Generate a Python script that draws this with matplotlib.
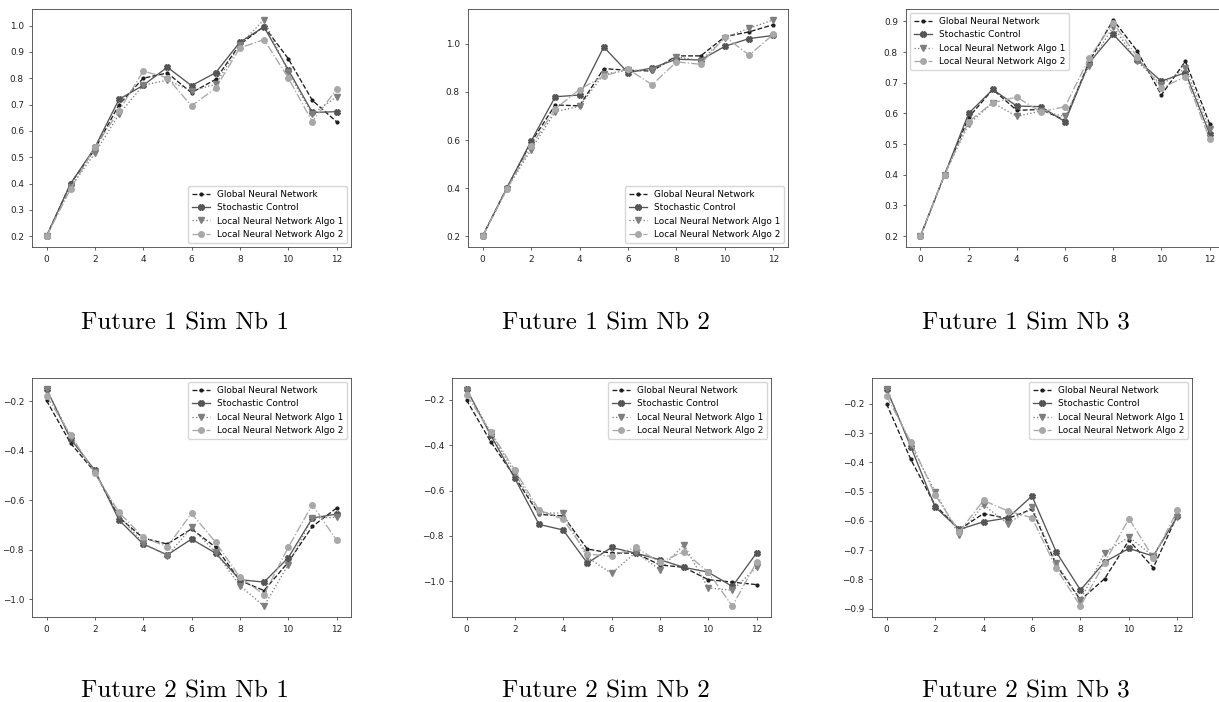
import matplotlib
matplotlib.use('Agg')
import matplotlib.pyplot as plt
from matplotlib.ticker import MultipleLocator

# time steps
steps = list(range(13))

# Future 1 Sim Nb 1
f1s1_global = [0.20, 0.40, 0.53, 0.70, 0.80, 0.82, 0.745, 0.796, 0.928, 0.997, 0.875, 0.716, 0.635]
f1s1_stoch = [0.20, 0.40, 0.537, 0.72, 0.773, 0.842, 0.772, 0.821, 0.937, 0.995, 0.833, 0.67, 0.673]
f1s1_algo1 = [0.20, 0.386, 0.515, 0.663, 0.773, 0.793, 0.752, 0.777, 0.928, 1.022, 0.823, 0.663, 0.73]
f1s1_algo2 = [0.20, 0.38, 0.537, 0.676, 0.827, 0.802, 0.695, 0.762, 0.915, 0.947, 0.802, 0.635, 0.758]

# Future 1 Sim Nb 2
f1s2_global = [0.20, 0.40, 0.59, 0.746, 0.742, 0.897, 0.89, 0.887, 0.95, 0.95, 1.03, 1.05, 1.08]
f1s2_stoch = [0.20, 0.40, 0.595, 0.78, 0.787, 0.987, 0.88, 0.90, 0.936, 0.933, 0.99, 1.022, 1.035]
f1s2_algo1 = [0.20, 0.395, 0.56, 0.718, 0.74, 0.874, 0.89, 0.89, 0.946, 0.93, 1.026, 1.065, 1.10]
f1s2_algo2 = [0.20, 0.395, 0.575, 0.73, 0.81, 0.867, 0.895, 0.83, 0.925, 0.915, 1.03, 0.953, 1.04]

# Future 1 Sim Nb 3
f1s3_global = [0.20, 0.40, 0.587, 0.678, 0.61, 0.613, 0.578, 0.768, 0.905, 0.803, 0.66, 0.77, 0.567]
f1s3_stoch = [0.20, 0.40, 0.60, 0.678, 0.624, 0.622, 0.573, 0.765, 0.858, 0.774, 0.705, 0.733, 0.534]
f1s3_algo1 = [0.20, 0.40, 0.565, 0.635, 0.59, 0.608, 0.59, 0.756, 0.883, 0.77, 0.693, 0.748, 0.55]
f1s3_algo2 = [0.20, 0.40, 0.573, 0.635, 0.653, 0.605, 0.622, 0.78, 0.895, 0.784, 0.682, 0.72, 0.518]

# Future 2 Sim Nb 1
f2s1_global = [-0.196, -0.369, -0.485, -0.668, -0.752, -0.776, -0.715, -0.789, -0.923, -0.964, -0.85, -0.705, -0.631]
f2s1_stoch = [-0.149, -0.352, -0.478, -0.679, -0.776, -0.82, -0.756, -0.813, -0.92, -0.93, -0.832, -0.671, -0.655]
f2s1_algo1 = [-0.15, -0.342, -0.485, -0.66, -0.773, -0.823, -0.709, -0.81, -0.944, -1.027, -0.86, -0.671, -0.668]
f2s1_algo2 = [-0.177, -0.335, -0.49, -0.648, -0.749, -0.787, -0.652, -0.769, -0.91, -0.98, -0.79, -0.617, -0.76]

# Future 2 Sim Nb 2
f2s2_global = [-0.20, -0.384, -0.54, -0.705, -0.712, -0.858, -0.876, -0.876, -0.928, -0.939, -0.993, -1.004, -1.015]
f2s2_stoch = [-0.151, -0.355, -0.546, -0.749, -0.774, -0.92, -0.851, -0.876, -0.905, -0.939, -0.96, -1.023, -0.876]
f2s2_algo1 = [-0.155, -0.345, -0.524, -0.698, -0.70, -0.895, -0.965, -0.873, -0.949, -0.839, -1.03, -1.04, -0.939]
f2s2_algo2 = [-0.178, -0.34, -0.51, -0.686, -0.727, -0.88, -0.89, -0.851, -0.917, -0.869, -0.96, -1.11, -0.917]

# Future 2 Sim Nb 3
f2s3_global = [-0.20, -0.39, -0.546, -0.629, -0.575, -0.592, -0.56, -0.751, -0.87, -0.797, -0.666, -0.76, -0.58]
f2s3_stoch = [-0.149, -0.346, -0.552, -0.629, -0.603, -0.59, -0.515, -0.706, -0.836, -0.74, -0.694, -0.72, -0.584]
f2s3_algo1 = [-0.15, -0.34, -0.50, -0.649, -0.545, -0.61, -0.553, -0.745, -0.87, -0.708, -0.655, -0.72, -0.586]
f2s3_algo2 = [-0.173, -0.33, -0.51, -0.637, -0.53, -0.566, -0.589, -0.762, -0.891, -0.742, -0.592, -0.725, -0.564]

captions = ['Future 1 Sim Nb 1', 'Future 1 Sim Nb 2', 'Future 1 Sim Nb 3',
            'Future 2 Sim Nb 1', 'Future 2 Sim Nb 2', 'Future 2 Sim Nb 3']
series_labels = ['Global Neural Network', 'Stochastic Control',
                 'Local Neural Network Algo 1', 'Local Neural Network Algo 2']
ytick_steps = [0.1, 0.2, 0.1, 0.2, 0.2, 0.1]

panels = [
    (f1s1_global, f1s1_stoch, f1s1_algo1, f1s1_algo2),
    (f1s2_global, f1s2_stoch, f1s2_algo1, f1s2_algo2),
    (f1s3_global, f1s3_stoch, f1s3_algo1, f1s3_algo2),
    (f2s1_global, f2s1_stoch, f2s1_algo1, f2s1_algo2),
    (f2s2_global, f2s2_stoch, f2s2_algo1, f2s2_algo2),
    (f2s3_global, f2s3_stoch, f2s3_algo1, f2s3_algo2),
]

W, H = 1219, 702
# axes box in pixels: left, top, right, bottom
boxes = [
    (32, 9, 351, 247), (468, 9, 788, 247), (906, 9, 1224, 247),
    (32, 378, 351, 617), (452, 378, 771, 617), (872, 378, 1192, 617),
]
legend_locs = ['lower right', 'lower right', 'upper left',
               'upper right', 'upper right', 'upper right']
caption_x = [185, 606, 1026, 185, 606, 1026]
caption_y = [329, 329, 329, 698, 698, 698]

styles = [
    dict(ls='--', marker='.', color='#1e1e1e', ms=4.0),
    dict(ls='-', marker='X', color='#555555', ms=4.2),
    dict(ls=':', marker='v', color='#7f7f7f', ms=4.0),
    dict(ls='-.', marker='o', color='#a8a8a8', ms=4.0),
]

fs = 6.4
fig = plt.figure(figsize=(W / 100, H / 100), dpi=100)

for i, data in enumerate(panels):
    l, t, r, b = boxes[i]
    ax = fig.add_axes([l / W, 1 - b / H, (r - l) / W, (b - t) / H])
    for vals, lab, st in zip(data, series_labels, styles):
        ax.plot(steps, vals, label=lab, lw=0.95, **st)
    ax.set_xticks([0, 2, 4, 6, 8, 10, 12])
    ax.yaxis.set_major_locator(MultipleLocator(ytick_steps[i]))
    ax.tick_params(labelsize=fs, length=2.3, width=0.5, colors='#222222')
    for sp in ax.spines.values():
        sp.set_linewidth(0.6)
        sp.set_color('#444444')
    ax.legend(loc=legend_locs[i], fontsize=fs, handlelength=2.0)
    fig.text(caption_x[i] / W, 1 - caption_y[i] / H, captions[i],
             family='cmr10', fontsize=18, ha='center', va='baseline')

fig.savefig('out.png', dpi=100)
